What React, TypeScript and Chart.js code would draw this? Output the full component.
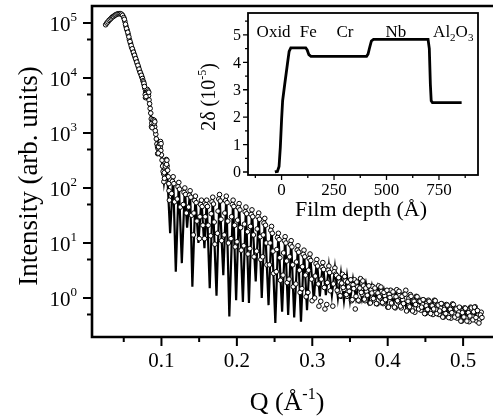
import React, { useEffect, useRef } from 'react';
import { Chart, registerables } from 'chart.js';

Chart.register(...registerables);

const FONT = '"Liberation Serif", "Times New Roman", serif';

// ---------- Main plot data: Q (1/Å) vs intensity (arb. units) ----------
// Fitted reflectivity curve (solid line)
const fitCurve: [number, number][] = [
  [0.026, 9.5e4], [0.030, 1.1e5], [0.035, 1.26e5], [0.040, 1.41e5], [0.045, 1.48e5], [0.048, 1.45e5],
  [0.050, 1.32e5], [0.052, 1.05e5], [0.055, 7.1e4], [0.058, 4.8e4], [0.062, 3.2e4], [0.066, 2.1e4],
  [0.070, 1.5e4], [0.075, 9.5e3], [0.0791, 5.0e3], [0.083, 4.5e3], [0.0872, 1.4e3], [0.091, 1.4e3],
  [0.0953, 450], [0.099, 560], [0.1034, 126], [0.107, 280], [0.1115, 15], [0.1155, 160], [0.119, 3.0],
  [0.123, 126], [0.127, 4.3], [0.131, 100], [0.134, 19], [0.138, 89], [0.141, 1.6], [0.145, 71],
  [0.149, 10], [0.153, 60], [0.157, 8], [0.160, 60], [0.164, 1.5], [0.168, 68], [0.173, 1.1],
  [0.177, 76], [0.182, 2.6], [0.186, 71], [0.190, 0.46], [0.195, 60], [0.199, 0.91], [0.203, 52],
  [0.208, 0.85], [0.212, 45], [0.216, 0.81], [0.220, 40], [0.225, 2.0], [0.229, 35], [0.233, 1.0],
  [0.237, 28], [0.242, 0.74], [0.246, 20], [0.251, 0.35], [0.255, 15], [0.260, 0.56], [0.264, 13],
  [0.268, 0.49], [0.272, 11], [0.276, 0.44], [0.281, 8.9], [0.285, 0.37], [0.289, 7.4], [0.293, 0.6],
  [0.297, 6.3], [0.302, 0.91], [0.306, 5.0], [0.310, 1.07], [0.314, 4.4], [0.318, 1.12], [0.322, 3.8],
  [0.326, 1.12], [0.330, 3.5], [0.334, 1.0], [0.338, 2.8], [0.342, 0.89], [0.346, 2.5], [0.350, 0.89],
  [0.354, 2.2], [0.358, 1.0], [0.362, 2.0], [0.366, 0.95], [0.371, 1.86], [0.375, 0.89], [0.379, 1.66],
  [0.383, 0.87], [0.387, 1.58], [0.391, 0.87], [0.395, 1.41], [0.399, 0.83], [0.403, 1.32], [0.407, 0.79],
  [0.411, 1.2], [0.415, 0.76], [0.419, 1.15], [0.424, 0.71], [0.428, 1.05], [0.432, 0.69], [0.436, 1.0],
  [0.440, 0.66], [0.444, 0.93], [0.448, 0.63], [0.452, 0.87], [0.456, 0.6], [0.460, 0.81], [0.464, 0.56],
  [0.468, 0.74], [0.472, 0.54], [0.477, 0.69], [0.481, 0.5], [0.485, 0.65], [0.489, 0.48], [0.493, 0.6],
  [0.497, 0.46], [0.501, 0.58], [0.505, 0.44], [0.509, 0.55], [0.513, 0.43], [0.517, 0.52], [0.521, 0.42],
  [0.525, 0.5],
];

// Measured points (open circles): total-reflection edge
const measuredEdge: [number, number][] = [
  [0.026, 9.3e4], [0.0275, 1.0e5], [0.029, 1.05e5], [0.0305, 1.12e5], [0.032, 1.17e5], [0.0335, 1.23e5],
  [0.035, 1.29e5], [0.0365, 1.32e5], [0.038, 1.38e5], [0.0395, 1.41e5], [0.041, 1.45e5], [0.0425, 1.48e5],
  [0.044, 1.48e5], [0.0455, 1.48e5], [0.047, 1.45e5], [0.0485, 1.38e5], [0.050, 1.26e5], [0.0515, 1.07e5],
  [0.053, 8.7e4], [0.0545, 7.4e4], [0.056, 6.2e4], [0.0575, 5.0e4], [0.059, 4.3e4], [0.0605, 3.6e4],
  [0.062, 3.2e4], [0.0635, 2.75e4], [0.065, 2.4e4], [0.0665, 2.1e4], [0.068, 1.8e4], [0.0695, 1.58e4],
  [0.071, 1.35e4], [0.0725, 1.2e4], [0.074, 1.05e4],
  [0.0508, 1.17e5], [0.0523, 9.5e4], [0.0538, 7.9e4], [0.0553, 6.8e4], [0.0568, 5.6e4], [0.0583, 4.6e4],
  [0.0598, 3.9e4], [0.0613, 3.4e4], [0.0628, 2.95e4], [0.0643, 2.6e4], [0.0658, 2.25e4], [0.0673, 1.95e4],
  [0.0688, 1.7e4], [0.0703, 1.45e4], [0.0718, 1.26e4], [0.0733, 1.12e4], [0.0748, 9.8e3],
];

// Measured points: steep decay with the first small fringes
const measuredDecay: [number, number][] = [
  [0.0755, 8.9e3], [0.077, 7.6e3], [0.079, 5.6e3], [0.0805, 6.0e3], [0.082, 5.2e3], [0.0835, 4.0e3],
  [0.085, 2.8e3], [0.0865, 1.8e3], [0.088, 1.6e3], [0.0895, 1.66e3], [0.091, 1.3e3], [0.0925, 950],
  [0.094, 630], [0.0955, 520], [0.097, 600], [0.0985, 550], [0.100, 400], [0.1015, 250], [0.103, 180],
  [0.1045, 220], [0.106, 260], [0.1075, 250], [0.109, 160], [0.110, 89],
  [0.0762, 8.5e3], [0.078, 6.5e3], [0.0798, 5.3e3], [0.0812, 6.2e3], [0.0828, 4.8e3], [0.0843, 3.4e3],
  [0.0858, 2.3e3], [0.0872, 1.5e3], [0.0888, 1.75e3], [0.0903, 1.5e3], [0.0918, 1.1e3], [0.0932, 780],
  [0.0948, 560], [0.0962, 560], [0.0978, 640], [0.0992, 480], [0.1008, 320], [0.1022, 200],
  [0.1038, 190], [0.1052, 250], [0.1068, 270], [0.1082, 210], [0.1098, 120], [0.1105, 60],
  [0.0768, 8.0e3], [0.0775, 7.0e3], [0.0785, 5.0e3], [0.0788, 4.4e3], [0.0795, 4.6e3], [0.0825, 5.8e3],
  [0.0832, 5.5e3], [0.0868, 1.3e3], [0.0876, 1.25e3], [0.0905, 1.7e3], [0.0912, 1.6e3], [0.095, 420],
  [0.0958, 430], [0.0988, 700], [0.0995, 640], [0.1032, 130], [0.104, 150], [0.1065, 330], [0.1072, 320],
];

// Measured points: Kiessig fringes (maxima and flanks)
const measuredFringes: [number, number][] = [
  [0.1135, 79], [0.1155, 160], [0.1175, 56], [0.121, 63], [0.123, 126], [0.125, 45],
  [0.129, 50], [0.131, 100], [0.133, 35], [0.136, 45], [0.138, 89], [0.140, 32],
  [0.143, 35], [0.145, 71], [0.147, 25], [0.151, 30], [0.153, 60], [0.155, 21],
  [0.158, 30], [0.160, 60], [0.162, 21], [0.166, 34], [0.168, 68], [0.170, 24], [0.1708, 9.5],
  [0.175, 38], [0.177, 76], [0.179, 27], [0.1798, 11], [0.184, 35], [0.186, 71], [0.188, 25], [0.1888, 10],
  [0.193, 30], [0.195, 60], [0.197, 21], [0.1978, 8.5], [0.201, 26], [0.203, 52], [0.205, 19], [0.2058, 7.4],
  [0.210, 22], [0.212, 45], [0.214, 16], [0.2148, 6.3], [0.218, 20], [0.220, 40], [0.222, 14], [0.2228, 5.6],
  [0.227, 18], [0.229, 35], [0.231, 13], [0.2318, 5.0], [0.235, 14], [0.237, 28], [0.239, 10], [0.2398, 4.0],
  [0.244, 10], [0.246, 20], [0.248, 7.1], [0.2488, 2.8], [0.253, 7.6], [0.255, 15], [0.257, 5.4], [0.2578, 2.1],
  [0.262, 6.6], [0.264, 13], [0.266, 4.7], [0.2668, 1.9], [0.270, 5.6], [0.272, 11], [0.274, 4.0], [0.2748, 1.6],
  [0.279, 4.5], [0.281, 8.9], [0.283, 3.2], [0.2838, 1.26], [0.287, 3.7], [0.289, 7.4], [0.291, 2.6], [0.2918, 1.05],
  [0.295, 3.2], [0.297, 6.3], [0.299, 2.2], [0.2998, 0.89], [0.304, 2.5], [0.306, 5.0], [0.308, 1.8], [0.3088, 0.71],
  [0.312, 2.2], [0.314, 4.4], [0.316, 1.55], [0.3168, 0.63], [0.320, 1.9], [0.322, 3.8], [0.324, 1.35],
  [0.328, 1.8], [0.330, 3.5],
];

// Measured points: more fringe samples near the tops and down the flanks
const measuredFringeFlanks: [number, number][] = [
  [0.1145, 132], [0.1165, 120], [0.122, 105], [0.124, 95], [0.130, 83], [0.132, 76], [0.137, 74], [0.139, 68],
  [0.144, 59], [0.146, 54], [0.152, 50], [0.154, 46], [0.159, 50], [0.161, 46], [0.167, 56], [0.169, 51],
  [0.176, 63], [0.178, 58], [0.185, 59], [0.187, 54], [0.194, 50], [0.196, 46], [0.202, 44], [0.204, 40],
  [0.211, 37], [0.213, 34], [0.219, 33], [0.221, 30], [0.228, 30], [0.230, 27], [0.236, 23], [0.238, 21],
  [0.245, 17], [0.247, 15], [0.254, 12.6], [0.256, 11.5], [0.263, 11], [0.265, 10], [0.271, 9.3], [0.273, 8.5],
  [0.280, 7.4], [0.282, 6.8], [0.288, 6.2], [0.290, 5.6], [0.296, 5.2], [0.298, 4.8], [0.305, 4.2], [0.307, 3.8],
  [0.313, 3.6], [0.315, 3.3], [0.321, 3.2], [0.323, 2.9], [0.329, 3.0], [0.331, 2.7],
  [0.1422, 14], [0.1502, 12], [0.1572, 12], [0.1652, 13.5], [0.1742, 15], [0.1832, 14], [0.1922, 12],
  [0.2002, 10.5], [0.2092, 8.9], [0.2172, 7.9], [0.2262, 7.1], [0.2342, 5.6], [0.2432, 4.0], [0.2522, 3.0],
  [0.2612, 2.6], [0.2692, 2.2], [0.2782, 1.8], [0.2862, 1.48], [0.2942, 1.26], [0.3032, 1.0], [0.3112, 0.87],
  [0.3192, 0.76], [0.3272, 0.71],
];

// Measured points: high-Q tail
const measuredTail: [number, number][] = [
  [0.332, 2.57], [0.334, 1.29], [0.336, 1.95], [0.338, 1.07], [0.340, 2.69], [0.342, 1.43], [0.344, 2.04],
  [0.346, 1.07], [0.348, 1.58], [0.350, 2.09], [0.352, 0.89], [0.354, 1.74], [0.356, 2.14], [0.358, 1.07],
  [0.360, 1.58], [0.362, 0.88], [0.364, 2.24], [0.366, 1.17], [0.368, 1.66], [0.370, 0.89], [0.372, 1.32],
  [0.374, 1.62], [0.376, 0.81], [0.378, 1.41], [0.380, 1.62], [0.382, 0.92], [0.384, 1.29], [0.386, 0.78],
  [0.388, 1.66], [0.390, 1.0], [0.392, 1.32], [0.394, 0.79], [0.396, 1.1], [0.398, 1.35], [0.400, 0.68],
  [0.402, 1.17], [0.404, 1.38], [0.406, 0.78], [0.408, 1.07], [0.410, 0.66], [0.412, 1.41], [0.414, 0.85],
  [0.416, 1.12], [0.418, 0.66], [0.420, 0.93], [0.422, 1.15], [0.424, 1.38], [0.426, 0.60], [0.428, 0.98],
  [0.430, 1.15], [0.432, 0.65], [0.434, 0.91], [0.436, 0.55], [0.438, 1.07], [0.440, 0.72], [0.442, 0.89],
  [0.444, 0.60], [0.446, 0.78], [0.448, 0.91], [0.450, 0.52], [0.452, 0.81], [0.454, 0.91], [0.456, 0.58],
  [0.458, 0.74], [0.460, 0.50], [0.462, 0.91], [0.464, 0.62], [0.466, 0.76], [0.468, 0.50], [0.470, 0.66],
  [0.472, 0.78], [0.474, 0.45], [0.476, 0.69], [0.478, 0.76], [0.480, 0.49], [0.482, 0.63], [0.484, 0.43],
  [0.486, 0.78], [0.488, 0.51], [0.490, 0.65], [0.492, 0.43], [0.494, 0.56], [0.496, 0.66], [0.498, 0.38],
  [0.500, 0.60], [0.502, 0.66], [0.504, 0.43], [0.506, 0.55], [0.508, 0.37], [0.510, 0.68], [0.512, 0.46],
  [0.514, 0.56], [0.516, 0.69], [0.518, 0.38], [0.520, 0.49], [0.522, 0.41], [0.524, 0.55],
];

// Measured points: high-Q tail, interleaved samples
const measuredTailB: [number, number][] = [
  [0.333, 1.38], [0.335, 2.34], [0.337, 1.1], [0.339, 1.86], [0.341, 1.55], [0.343, 2.45], [0.345, 1.15],
  [0.347, 1.95], [0.349, 1.32], [0.351, 2.14], [0.353, 0.93], [0.355, 1.48], [0.357, 0.63], [0.359, 1.95],
  [0.361, 0.91], [0.363, 1.51], [0.365, 1.26], [0.367, 2.04], [0.369, 0.95], [0.371, 1.51], [0.373, 1.12],
  [0.375, 1.66], [0.377, 0.81], [0.379, 1.23], [0.381, 0.98], [0.383, 1.51], [0.385, 0.79], [0.387, 1.23],
  [0.389, 1.05], [0.391, 1.58], [0.393, 0.83], [0.395, 1.26], [0.397, 0.93], [0.399, 1.38], [0.401, 0.68],
  [0.403, 1.02], [0.405, 0.81], [0.407, 1.29], [0.409, 0.68], [0.411, 1.05], [0.413, 0.89], [0.415, 1.32],
  [0.417, 0.71], [0.419, 1.07], [0.421, 0.79], [0.423, 1.17], [0.425, 0.58], [0.427, 0.87], [0.429, 0.69],
  [0.431, 1.07], [0.433, 0.58], [0.435, 0.87], [0.437, 0.76], [0.439, 1.05], [0.441, 0.63], [0.443, 0.87],
  [0.445, 0.68], [0.447, 0.93], [0.449, 0.52], [0.451, 0.72], [0.453, 0.62], [0.455, 0.87], [0.457, 0.52],
  [0.459, 0.72], [0.461, 0.63], [0.463, 0.89], [0.465, 0.52], [0.467, 0.74], [0.469, 0.58], [0.471, 0.79],
  [0.473, 0.45], [0.475, 0.62], [0.477, 0.52], [0.479, 0.74], [0.481, 0.44], [0.483, 0.62], [0.485, 0.54],
  [0.487, 0.76], [0.489, 0.45], [0.491, 0.63], [0.493, 0.49], [0.495, 0.68], [0.497, 0.38], [0.499, 0.54],
  [0.501, 0.45], [0.503, 0.65], [0.505, 0.38], [0.507, 0.54], [0.509, 0.47], [0.511, 0.66], [0.513, 0.40],
  [0.515, 0.68], [0.517, 0.44], [0.519, 0.59], [0.521, 0.35], [0.523, 0.49], [0.525, 0.44],
];

// Axis ticks (main)
const xMajorTicks = [0.1, 0.2, 0.3, 0.4, 0.5];
const xTickLabels = ['0.1', '0.2', '0.3', '0.4', '0.5'];
const xMinorTicks = [0.05, 0.15, 0.25, 0.35, 0.45];
const yMajorTicks = [1, 10, 100, 1000, 10000, 100000];
const yExponents = ['0', '1', '2', '3', '4', '5'];
const yMinorTicks = [0.5, 5, 50, 500, 5000, 50000];

// ---------- Inset data: 2δ (1e-5) vs film depth (Å) ----------
const depthProfile: [number, number][] = [
  [-32, 0.0], [-20, 0.02], [-12, 0.2], [-6, 0.9], [0, 1.9], [5, 2.6], [15, 3.2], [28, 3.95], [36, 4.4],
  [44, 4.53], [115, 4.53], [122, 4.45], [130, 4.28], [140, 4.22], [405, 4.22], [412, 4.3], [420, 4.55],
  [428, 4.78], [438, 4.84], [698, 4.84], [704, 4.5], [709, 3.2], [713, 2.6], [719, 2.53], [858, 2.53],
];
const insetXTicks = [-125, 0, 125, 250, 375, 500, 625, 750, 875];
const insetXLabels = ['', '0', '', '250', '', '500', '', '750', ''];
const insetYTicks = [0, 1, 2, 3, 4, 5];
const insetYMinor = [0.5, 1.5, 2.5, 3.5, 4.5, 5.5];
const layerNames = ['Oxid', 'Fe', 'Cr', 'Nb'];
const layerDepths = [-38, 127, 302, 545]; // label centre positions (Å)

type Run = [string, number, number];

function drawRuns(ctx: CanvasRenderingContext2D, runs: Run[], x: number, y: number, align: 'left' | 'center' | 'right') {
  ctx.textAlign = 'left';
  ctx.textBaseline = 'alphabetic';
  let w = 0;
  for (const [t, s] of runs) {
    ctx.font = `${s}px ${FONT}`;
    w += ctx.measureText(t).width;
  }
  let cx = align === 'center' ? x - w / 2 : align === 'right' ? x - w : x;
  for (const [t, s, dy] of runs) {
    ctx.font = `${s}px ${FONT}`;
    ctx.fillText(t, cx, y + dy);
    cx += ctx.measureText(t).width;
  }
}

const mainDecor = {
  id: 'mainDecor',
  afterDraw(chart: any) {
    const { ctx, chartArea: a, scales } = chart;
    const xs = scales.x;
    const ys = scales.y;
    ctx.save();
    ctx.strokeStyle = '#000';
    ctx.fillStyle = '#000';
    ctx.lineWidth = 2.6;
    ctx.beginPath();
    ctx.moveTo(chart.width, a.top);
    ctx.lineTo(a.left, a.top);
    ctx.lineTo(a.left, a.bottom);
    ctx.lineTo(chart.width, a.bottom);
    ctx.stroke();

    ctx.lineWidth = 2;
    ctx.beginPath();
    xMajorTicks.forEach((v) => {
      const p = xs.getPixelForValue(v);
      ctx.moveTo(p, a.bottom);
      ctx.lineTo(p, a.bottom + 9);
    });
    xMinorTicks.forEach((v) => {
      const p = xs.getPixelForValue(v);
      ctx.moveTo(p, a.bottom);
      ctx.lineTo(p, a.bottom + 5);
    });
    yMajorTicks.forEach((v) => {
      const p = ys.getPixelForValue(v);
      ctx.moveTo(a.left, p);
      ctx.lineTo(a.left - 9, p);
    });
    yMinorTicks.forEach((v) => {
      const p = ys.getPixelForValue(v);
      ctx.moveTo(a.left, p);
      ctx.lineTo(a.left - 5, p);
    });
    ctx.stroke();

    // x tick labels
    ctx.font = `21px ${FONT}`;
    ctx.textAlign = 'center';
    ctx.textBaseline = 'middle';
    xMajorTicks.forEach((v, i) => {
      ctx.fillText(xTickLabels[i], xs.getPixelForValue(v), a.bottom + 24);
    });
    // y tick labels 10^n
    yMajorTicks.forEach((v, i) => {
      const p = ys.getPixelForValue(v);
      drawRuns(ctx, [['10', 21, 0], [yExponents[i], 13, -10]], 77, p + 8, 'right');
    });

    // axis titles
    drawRuns(ctx, [['Q (Å', 26, 0], ['-1', 16, -11], [')', 26, 0]], 287, 410, 'center');
    ctx.save();
    ctx.translate(30, 176);
    ctx.rotate(-Math.PI / 2);
    ctx.font = `27px ${FONT}`;
    ctx.textAlign = 'center';
    ctx.textBaseline = 'middle';
    ctx.fillText('Intensity (arb. units)', 0, 0);
    ctx.restore();
    ctx.restore();
  },
};

const insetDecor = {
  id: 'insetDecor',
  afterDraw(chart: any) {
    const { ctx, chartArea: a, scales } = chart;
    const xs = scales.x;
    const ys = scales.y;
    ctx.save();
    ctx.strokeStyle = '#000';
    ctx.fillStyle = '#000';
    ctx.lineWidth = 1.8;
    ctx.strokeRect(a.left, a.top, a.right - a.left, a.bottom - a.top);

    ctx.lineWidth = 1.3;
    ctx.beginPath();
    insetYTicks.forEach((v) => {
      const p = ys.getPixelForValue(v);
      ctx.moveTo(a.left, p);
      ctx.lineTo(a.left - 5, p);
    });
    insetYMinor.forEach((v) => {
      const p = ys.getPixelForValue(v);
      ctx.moveTo(a.left, p);
      ctx.lineTo(a.left - 3, p);
    });
    insetXTicks.forEach((v, i) => {
      const p = xs.getPixelForValue(v);
      ctx.moveTo(p, a.bottom);
      ctx.lineTo(p, a.bottom + (insetXLabels[i] ? 5 : 3));
    });
    ctx.stroke();

    ctx.font = `16px ${FONT}`;
    ctx.textAlign = 'right';
    ctx.textBaseline = 'middle';
    insetYTicks.forEach((v) => {
      ctx.fillText(String(v), a.left - 7, ys.getPixelForValue(v) + 1);
    });
    ctx.font = `17px ${FONT}`;
    ctx.textAlign = 'center';
    insetXTicks.forEach((v, i) => {
      if (insetXLabels[i]) ctx.fillText(insetXLabels[i], xs.getPixelForValue(v), a.bottom + 16);
    });

    ctx.font = `22px ${FONT}`;
    ctx.fillText('Film depth (Å)', 361, 210);

    ctx.save();
    ctx.translate(208, 97);
    ctx.rotate(-Math.PI / 2);
    drawRuns(ctx, [['2δ (10', 20, 0], ['-5', 12, -9], [')', 20, 0]], 0, 7, 'center');
    ctx.restore();

    // layer names
    layerNames.forEach((n, i) => {
      drawRuns(ctx, [[n, 17, 0]], xs.getPixelForValue(layerDepths[i]), 37, 'center');
    });
    drawRuns(ctx, [['Al', 17, 0], ['2', 11, 4], ['O', 17, 0], ['3', 11, 4]], xs.getPixelForValue(818), 37, 'center');
    ctx.restore();
  },
};

export default function App() {
  const mainRef = useRef<HTMLCanvasElement>(null);
  const insetRef = useRef<HTMLCanvasElement>(null);

  useEffect(() => {
    const measured = [
      ...measuredEdge,
      ...measuredDecay,
      ...measuredFringes,
      ...measuredFringeFlanks,
      ...measuredTail,
      ...measuredTailB,
    ];
    const main = new Chart(mainRef.current!, {
      type: 'scatter',
      data: {
        datasets: [
          {
            type: 'line',
            label: 'fit',
            data: fitCurve.map(([x, y]) => ({ x, y })),
            borderColor: '#000',
            borderWidth: 2.2,
            pointRadius: 0,
            tension: 0,
            fill: false,
            order: 2,
          } as any,
          {
            type: 'scatter',
            label: 'measured',
            data: measured.map(([x, y]) => ({ x, y })),
            pointStyle: 'circle',
            pointRadius: 2.3,
            pointBorderWidth: 1,
            borderColor: '#000',
            backgroundColor: '#fff',
            order: 1,
          } as any,
        ],
      },
      options: {
        responsive: false,
        devicePixelRatio: 1,
        animation: false,
        events: [],
        layout: { padding: { left: 92, top: 6, right: 2, bottom: 83 } },
        plugins: { legend: { display: false }, tooltip: { enabled: false } },
        scales: {
          x: { type: 'linear', min: 0.0079, max: 0.533, display: false },
          y: { type: 'logarithmic', min: 0.195, max: 2.04e5, display: false },
        },
      },
      plugins: [mainDecor],
    });

    const inset = new Chart(insetRef.current!, {
      type: 'line',
      data: {
        datasets: [
          {
            label: '2δ',
            data: depthProfile.map(([x, y]) => ({ x, y })),
            borderColor: '#000',
            borderWidth: 2.8,
            pointRadius: 0,
            tension: 0,
            fill: false,
          },
        ],
      },
      options: {
        responsive: false,
        devicePixelRatio: 1,
        animation: false,
        events: [],
        layout: { padding: { left: 248, top: 13, right: 15, bottom: 245 } },
        plugins: { legend: { display: false }, tooltip: { enabled: false } },
        scales: {
          x: { type: 'linear', min: -160, max: 936, display: false },
          y: { type: 'linear', min: -0.11, max: 5.8, display: false },
        },
      },
      plugins: [insetDecor],
    });

    return () => {
      main.destroy();
      inset.destroy();
    };
  }, []);

  return (
    <div style={{ position: 'fixed', left: 0, top: 0, width: 493, height: 420, background: '#fff' }}>
      <canvas ref={mainRef} width={493} height={420} style={{ position: 'absolute', left: 0, top: 0 }} />
      <canvas ref={insetRef} width={493} height={420} style={{ position: 'absolute', left: 0, top: 0 }} />
    </div>
  );
}
